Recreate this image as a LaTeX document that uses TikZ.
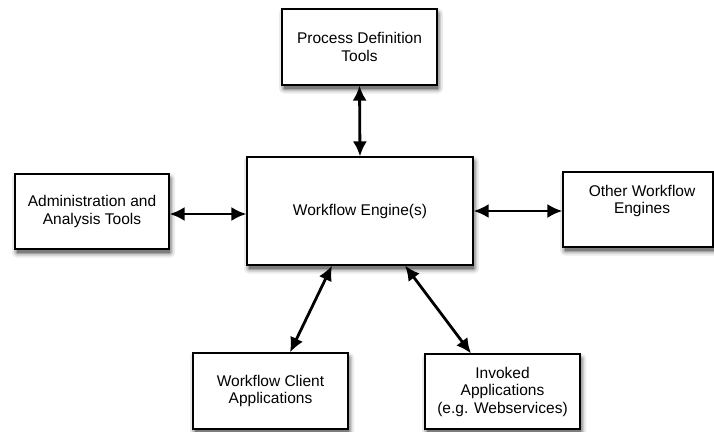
\documentclass[tikz,border=0pt]{standalone}
\usepackage{fontspec}
\setmainfont{Liberation Sans}
\usetikzlibrary{arrows.meta,calc}
\definecolor{shA}{RGB}{235,235,235}
\definecolor{shB}{RGB}{205,205,205}
\definecolor{shC}{RGB}{165,165,165}
\definecolor{shD}{RGB}{125,125,125}
\tikzset{
  box/.style={draw=black, line width=1.1pt, fill=white, rectangle, inner sep=0pt,
    align=center, font=\fontsize{15.5}{17.5}\selectfont},
  txt/.style={inner sep=0pt, align=center, font=\fontsize{15.5}{17.5}\selectfont},
  link/.style={line width=2.8pt, {Latex[length=15pt,width=14pt]}-{Latex[length=15pt,width=14pt]}},
  shadowbox/.style={draw=none, inner sep=0pt, rectangle}
}
\begin{document}
\begin{tikzpicture}[x=1pt,y=-1pt]
\useasboundingbox (0,0) rectangle (714,431);
\fill[white] (0,0) rectangle (714,431);
% soft drop shadows (layered greys)
\foreach \cx/\cy/\w/\h in {359.5/47/155/76, 360/211/226/108, 92/211.5/154/75, 638/209.5/150/75, 270.5/391/155/76, 502.5/391.5/155/75}{
  \node[shadowbox, fill=shA, rounded corners=5pt, minimum width=\w pt+9pt, minimum height=\h pt+9pt] at (\cx+1.5,\cy+4) {};
  \node[shadowbox, fill=shB, rounded corners=3pt, minimum width=\w pt+5pt, minimum height=\h pt+5pt] at (\cx+1.5,\cy+4) {};
  \node[shadowbox, fill=shC, rounded corners=2pt, minimum width=\w pt+2pt, minimum height=\h pt+2pt] at (\cx+1.5,\cy+4) {};
  \node[shadowbox, fill=shD, minimum width=\w pt-1pt, minimum height=\h pt-1pt] at (\cx+1.5,\cy+4) {};
}
\node[box, minimum width=155pt, minimum height=76pt] (pdt) at (359.5,47) {Process Definition\\Tools};
\node[box, minimum width=226pt, minimum height=108pt] (we) at (360,211) {Workflow Engine(s)};
\node[box, minimum width=154pt, minimum height=75pt] (aat) at (92,211.5) {Administration and\\Analysis Tools};
\node[box, minimum width=150pt, minimum height=75pt] (owe) at (638,209.5) {};
\node[txt] (owet) at (642,201) {Other Workflow\\Engines};
\node[box, minimum width=155pt, minimum height=76pt] (wca) at (270.5,391) {Workflow Client\\Applications};
\node[box, minimum width=155pt, minimum height=75pt] (inv) at (502.5,391.5) {Invoked\\Applications\\(e.g. Webservices)};
\draw[link] (pdt.south) -- (we.north);
\draw[link] (aat.east |- 0,214) -- (we.west |- 0,214);
\draw[link] (we.east) -- (owe.west |- we.east);
\draw[link] ($(we.south)+(-28,0)$) -- ($(wca.north)+(19.5,0)$);
\draw[link] ($(we.south)+(45,0)$) -- ($(inv.north)+(-31.5,0)$);
\end{tikzpicture}
\end{document}
